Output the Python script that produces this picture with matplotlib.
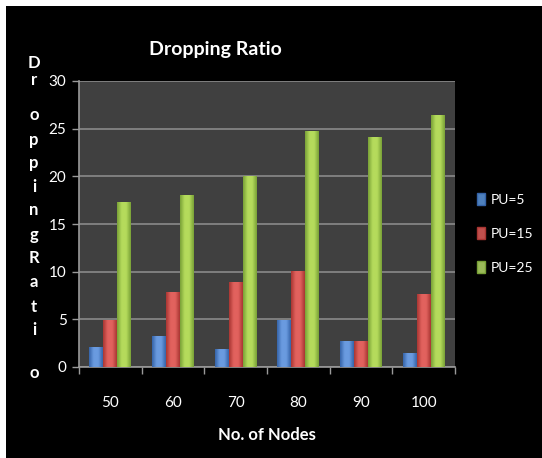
import numpy as np
import matplotlib
matplotlib.use('Agg')
import matplotlib.pyplot as plt
from matplotlib.patches import Rectangle, Patch
from matplotlib.colors import LinearSegmentedColormap

# datos
nodos = ['50', '60', '70', '80', '90', '100']
series = ['PU=5', 'PU=15', 'PU=25']
pu5 = [2.1, 3.3, 1.9, 4.9, 2.7, 1.5]
pu15 = [4.9, 7.9, 8.9, 10.1, 2.7, 7.7]
pu25 = [17.3, 18.0, 20.0, 24.8, 24.1, 26.4]
yticks = [0, 5, 10, 15, 20, 25, 30]

# colores (oscuro, claro) de cada serie
colores = [('#3563a8', '#6a9be0'), ('#a83532', '#e2625e'), ('#78a036', '#b5db5c')]
planos = ['#4f81bd', '#c0504d', '#9bbb59']

plt.rcParams['font.family'] = ['Lato', 'DejaVu Sans']

fig = plt.figure(figsize=(5.42, 4.58), dpi=100, facecolor='white')
# fondo negro dejando el borde blanco arriba y a la izquierda
fig.patches.append(Rectangle((6 / 542, 0), 1, 1 - 6 / 458, transform=fig.transFigure,
                             facecolor='black', edgecolor='none', zorder=-10))

ax = fig.add_axes([79 / 542, 1 - 367 / 458, 376 / 542, 286 / 458])
ax.set_facecolor('#404040')

x = np.arange(len(nodos))
ancho = 1 / 4.5
valores = [pu5, pu15, pu25]
for i, vals in enumerate(valores):
    oscuro, claro = colores[i]
    cmap = LinearSegmentedColormap.from_list('g', [oscuro, claro, claro, oscuro])
    grad = np.linspace(0, 1, 64).reshape(1, -1)
    barras = ax.bar(x + (i - 1) * ancho, vals, ancho, color=planos[i],
                    edgecolor='none', zorder=2)
    for b in barras:
        x0, w, h = b.get_x(), b.get_width(), b.get_height()
        im = ax.imshow(grad, extent=[x0, x0 + w, 0, h], aspect='auto',
                       cmap=cmap, zorder=3, interpolation='bicubic')
        im.set_clip_path(b)

ax.set_xlim(-0.5, len(nodos) - 0.5)
ax.set_ylim(0, 30)
ax.set_yticks(yticks)
ax.yaxis.grid(True, color='#8a8a8a', linewidth=1.2, zorder=1)
ax.set_axisbelow(True)

# ticks del eje x entre categorias
ax.set_xticks(np.arange(-0.5, len(nodos)), minor=False)
ax.set_xticklabels([])
ax.set_xticks(x, minor=True)
ax.set_xticklabels(nodos, minor=True)
ax.tick_params(axis='x', which='major', length=5, color='#9a9a9a', width=1)
ax.tick_params(axis='x', which='minor', length=0, pad=21, labelsize=11, labelcolor='white')
ax.tick_params(axis='y', length=5, color='#9a9a9a', width=1, labelsize=11,
               labelcolor='white', pad=4)

for lado in ['top', 'right']:
    ax.spines[lado].set_visible(False)
ax.spines['left'].set_color('#9a9a9a')
ax.spines['bottom'].set_color('#9a9a9a')
ax.spines['left'].set_linewidth(1.2)
ax.spines['bottom'].set_linewidth(1.2)

fig.text(215 / 542, 1 - 50 / 458, 'Dropping Ratio', color='white', fontsize=14,
         fontweight='bold', ha='center', va='center')
fig.text(267 / 542, 1 - 435 / 458, 'No. of Nodes', color='white', fontsize=12,
         fontweight='bold', ha='center', va='center')

# etiqueta vertical letra por letra
letras = list('DroppingRatio')
ys = [63, 80, 115, 140, 163, 187, 210, 235, 258, 282, 307, 330, 373]
for letra, yy in zip(letras, ys):
    fig.text(34 / 542, 1 - yy / 458, letra, color='white', fontsize=12,
             fontweight='bold', ha='center', va='center')

handles = [Patch(facecolor=planos[i], edgecolor=colores[i][0]) for i in range(3)]
leg = fig.legend(handles, series, loc='upper left', bbox_to_anchor=(466 / 542, 1 - 182 / 458),
                 frameon=False, labelcolor='white', fontsize=10, handlelength=0.6,
                 handleheight=0.9, handletextpad=0.35, labelspacing=1.55,
                 borderpad=0.3)

fig.savefig('out.png', dpi=100, facecolor=fig.get_facecolor())
